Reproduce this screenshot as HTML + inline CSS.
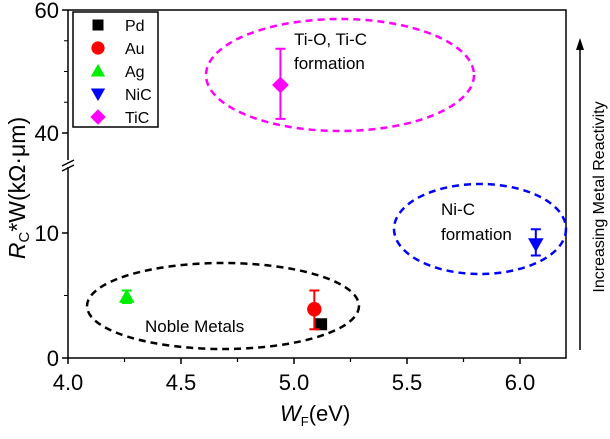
<!DOCTYPE html>
<html><head><style>body{margin:0;background:#fff}svg{font-family:"Liberation Sans",sans-serif}</style></head><body>
<svg id="c" width="610" height="434"></svg>
<script>
const names=["Pd","Au","Ag","NiC","TiC"];
const wf=[5.12,5.09,4.26,6.07,4.94];
const rc=[2.7,3.9,4.9,9.1,47.8];
const errLo=[2.7,2.3,4.4,8.2,42.3];
const errHi=[2.7,5.4,5.4,10.3,53.7];
const xTicks=[4.0,4.5,5.0,5.5,6.0];
const yTicksLow=[0,10];
const yTicksHigh=[40,60];
const colors=["#000","#f00","#0e0","#00f","#f0f"];
const ns="http://www.w3.org/2000/svg";
const svg=document.getElementById('c');
function X(v){return 68+(v-4)*226;}
function Y(v){return v<=20?358-v*12.5:10+(60-v)*6.15;}
function el(t,a,p){const e=document.createElementNS(ns,t);for(const k in a)e.setAttribute(k,a[k]);(p||svg).appendChild(e);return e;}
function txt(s,a){const e=el('text',a);e.textContent=s;return e;}
let f=el('path',{d:"M68,10 H566 V358 H68 V167 M68,160 V10",fill:"none",stroke:"#000","stroke-width":1.5});

let br=el('path',{d:"M62,166 L74,160 M62,171 L74,165",stroke:"#000","stroke-width":1.5,fill:"none"});

xTicks.forEach(v=>{el('line',{x1:X(v),x2:X(v),y1:358,y2:364,stroke:"#000","stroke-width":1.5});
 let t=txt(v.toFixed(1),{x:X(v),y:390,"text-anchor":"middle","font-size":22});});
[4.25,4.75,5.25,5.75].forEach(v=>el('line',{x1:X(v),x2:X(v),y1:358,y2:362,stroke:"#000","stroke-width":1.2}));
yTicksLow.concat(yTicksHigh).forEach(v=>{el('line',{x1:62,x2:68,y1:Y(v),y2:Y(v),stroke:"#000","stroke-width":1.5});
 let t=txt(String(v),{x:59,y:Y(v)+8,"text-anchor":"end","font-size":22});});
[5,45,50,55].forEach(v=>el('line',{x1:64,x2:68,y1:Y(v),y2:Y(v),stroke:"#000"}));
[[340,75,134,56,"#f0f","ellipse-tio"],[223,306,136,43,"#000","ellipse-noble"],[480,229,86,45,"#00f","ellipse-nic"]].forEach(e=>{
 let q=el('ellipse',{cx:e[0],cy:e[1],rx:e[2],ry:e[3],fill:"none",stroke:e[4],"stroke-width":2.5,"stroke-dasharray":"7,5"});
 });
function marker(i,x,y,s){const c=colors[i];let m;
 if(i==0)m=el('rect',{x:x-s,y:y-s,width:2*s,height:2*s,fill:c});
 else if(i==1)m=el('circle',{cx:x,cy:y,r:s*1.2,fill:c});
 else if(i==2)m=el('polygon',{points:`${x},${y-s*1.3} ${x-s*1.3},${y+s} ${x+s*1.3},${y+s}`,fill:c});
 else if(i==3)m=el('polygon',{points:`${x},${y+s*1.3} ${x-s*1.3},${y-s} ${x+s*1.3},${y-s}`,fill:c});
 else m=el('polygon',{points:`${x},${y-s*1.4} ${x+s*1.4},${y} ${x},${y+s*1.4} ${x-s*1.4},${y}`,fill:c});
 return m;}
names.forEach((n,i)=>{const x=X(wf[i]);
 if(errHi[i]>errLo[i]){let e=el('path',{d:`M${x},${Y(errLo[i])}V${Y(errHi[i])}M${x-5},${Y(errLo[i])}h10M${x-5},${Y(errHi[i])}h10`,stroke:colors[i],"stroke-width":2});
 }
 let m=marker(i,x,Y(rc[i]),6);});
let lg=el('rect',{x:73,y:12,width:85,height:115,fill:"#fff",stroke:"#000","stroke-width":1.5});

names.forEach((n,i)=>{const y=25+i*23;let m=marker(i,98,y,5.5);
 let t=txt(n,{x:125,y:y+6,"font-size":16});});
[["Ti-O, Ti-C",294,45,"label-tio"],["formation",294,69,"label-tio-formation"],["Noble Metals",145,332,"label-noble"],["Ni-C",441,215,"label-nic"],["formation",441,240,"label-nic-formation"]].forEach(a=>{
 let t=txt(a[0],{x:a[1],y:a[2],"font-size":17});});
let ar=el('path',{d:"M580,350 V48",stroke:"#000","stroke-width":1.5});
el('polygon',{points:"580,38 576,50 584,50",fill:"#000"});
let rt=txt("Increasing Metal Reactivity",{x:0,y:0,"font-size":16,"text-anchor":"middle",transform:"translate(604,197) rotate(-90)"});

let xt=el('text',{x:280,y:421,"font-size":22});xt.innerHTML='<tspan font-style="italic">W</tspan><tspan font-size="13" dy="5">F</tspan><tspan dy="-5">(eV)</tspan>';

let yt=el('text',{x:0,y:0,"font-size":23,"text-anchor":"middle",transform:"translate(25,188) rotate(-90)"});
yt.innerHTML='<tspan font-style="italic">R</tspan><tspan font-size="15" dy="4">C</tspan><tspan dy="-4">*W(kΩ·μm)</tspan>';

</script></body></html>
